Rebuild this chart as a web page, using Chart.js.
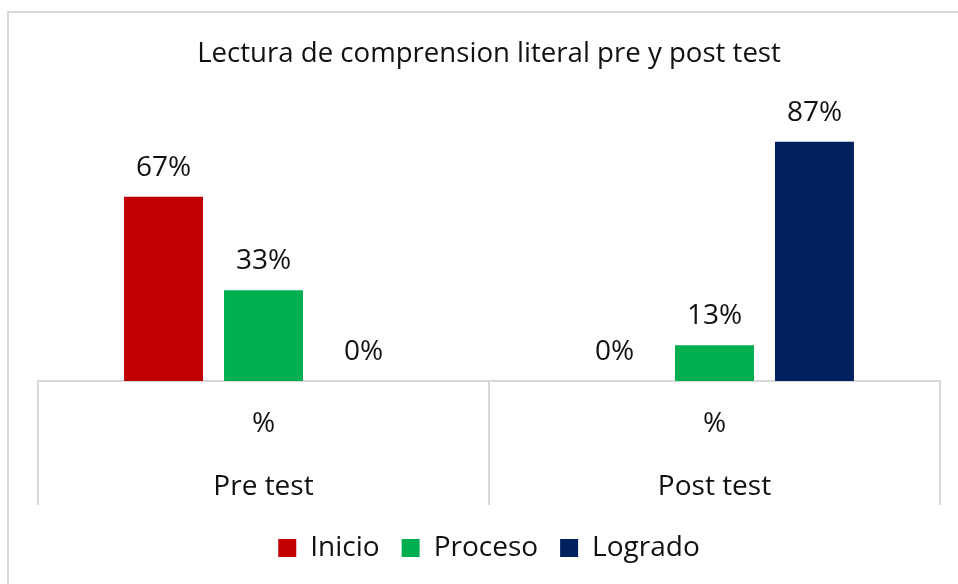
<!DOCTYPE html>
<html>
<head>
<meta charset="utf-8">
<script src="https://cdn.jsdelivr.net/npm/chart.js@4.4.1/dist/chart.umd.min.js"></script>
<style>
  html, body { margin: 0; padding: 0; background: #fff; }
  #wrap { width: 958px; height: 584px; position: relative; }
</style>
</head>
<body>
<div id="wrap"><canvas id="chart"></canvas></div>
<script>
// Datos del grafico
const grupos = [['%', 'Pre test'], ['%', 'Post test']];
const inicio = [67, 0];
const proceso = [33, 13];
const logrado = [0, 87];
const yMax = 100;

const FONT = "'Open Sans', sans-serif";
const TEXT = '#111111';
const LINE = '#d9d9d9';

// marco exterior
const marco = {
    id: 'marco',
    beforeDraw(chart) {
        const ctx = chart.ctx;
        ctx.save();
        ctx.strokeStyle = LINE;
        ctx.lineWidth = 2;
        ctx.strokeRect(8, 12, 1200, 1200);
        ctx.restore();
    }
};

// separadores verticales entre categorias, debajo del eje
const separadores = {
    id: 'separadores',
    afterDraw(chart) {
        const x = chart.scales.x;
        const ctx = chart.ctx;
        const paso = x.width / chart.data.labels.length;
        ctx.save();
        ctx.strokeStyle = LINE;
        ctx.lineWidth = 2;
        ctx.beginPath();
        for (let i = 0; i <= chart.data.labels.length; i++) {
            const px = Math.round(x.left + i * paso);
            ctx.moveTo(px, x.top);
            ctx.lineTo(px, x.top + 124);
        }
        ctx.stroke();
        ctx.restore();
    }
};

// etiquetas de valor encima de cada barra
const etiquetas = {
    id: 'etiquetas',
    afterDatasetsDraw(chart) {
        const ctx = chart.ctx;
        ctx.save();
        ctx.font = '28px ' + FONT;
        ctx.fillStyle = TEXT;
        ctx.textAlign = 'center';
        ctx.textBaseline = 'middle';
        chart.data.datasets.forEach((ds, i) => {
            chart.getDatasetMeta(i).data.forEach((bar, j) => {
                ctx.fillText(ds.data[j] + '%', bar.x, bar.y - 29);
            });
        });
        ctx.restore();
    }
};

new Chart(document.getElementById('chart'), {
    type: 'bar',
    data: {
        labels: grupos,
        datasets: [
            { label: 'Inicio', data: inicio, backgroundColor: '#C00000' },
            { label: 'Proceso', data: proceso, backgroundColor: '#00B050' },
            { label: 'Logrado', data: logrado, backgroundColor: '#002060' }
        ]
    },
    options: {
        responsive: true,
        maintainAspectRatio: false,
        animation: false,
        categoryPercentage: 0.665,
        barPercentage: 0.79,
        layout: { padding: { left: 38, right: 18, top: 12, bottom: 12 } },
        plugins: {
            title: {
                display: true,
                text: 'Lectura de comprension literal pre y post test',
                color: TEXT,
                font: { family: FONT, size: 27.6, weight: 'normal', lineHeight: 1.2 },
                padding: { top: 26, bottom: 35 }
            },
            legend: {
                position: 'bottom',
                labels: {
                    color: TEXT,
                    font: { family: FONT, size: 28 },
                    boxWidth: 18,
                    boxHeight: 18,
                    padding: 22
                }
            },
            tooltip: { enabled: false }
        },
        scales: {
            x: {
                grid: {
                    offset: true,
                    drawOnChartArea: false,
                    drawTicks: false
                },
                border: { display: true, color: LINE, width: 2 },
                ticks: {
                    color: TEXT,
                    font: { family: FONT, size: 28, lineHeight: 2.25 },
                    padding: 12,
                    maxRotation: 0
                },
                afterFit(scale) {
                    scale.height = 131;
                }
            },
            y: {
                display: false,
                min: 0,
                max: yMax
            }
        }
    },
    plugins: [marco, separadores, etiquetas]
});
</script>
</body>
</html>
